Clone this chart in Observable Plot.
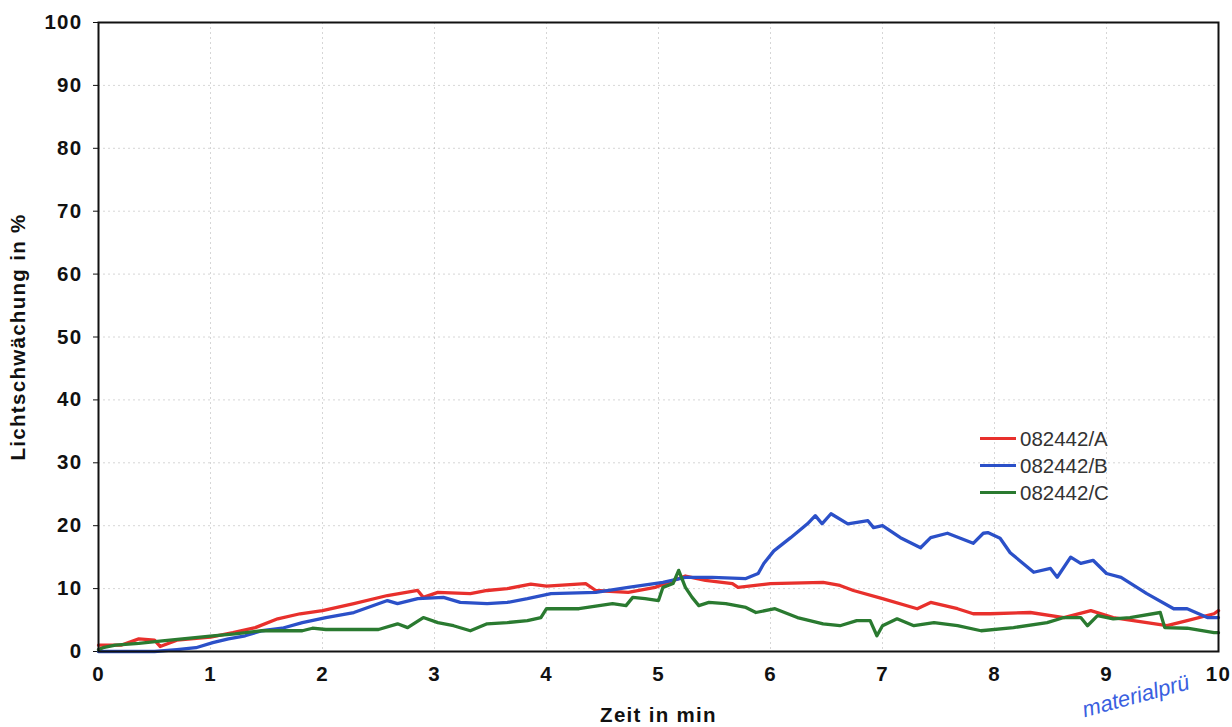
<!DOCTYPE html>
<html>
<head>
<meta charset="utf-8">
<script src="https://cdn.jsdelivr.net/npm/d3@7"></script>
<script src="https://cdn.jsdelivr.net/npm/@observablehq/plot@0.6"></script>
<style>
  html, body { margin: 0; padding: 0; background: #fff; overflow: hidden; }
  #wrap { position: relative; width: 1232px; height: 727px; overflow: hidden; }
  #legend { position: absolute; left: 980px; top: 425px; font-family: "Liberation Sans", Arial, sans-serif; font-size: 20.5px; color: #333; }
  .row { display: flex; align-items: center; height: 27px; }
  .sw { width: 36px; height: 3px; margin-right: 4px; }
  #wm { position: absolute; left: 1086px; top: 697px; font-family: "Liberation Sans", Arial, sans-serif; font-style: italic; font-size: 22px; color: #3a5fe0; transform: rotate(-15deg); transform-origin: left bottom; white-space: nowrap; }
</style>
</head>
<body>
<div id="wrap">
  <div id="chart"></div>
  <div id="legend"></div>
  <div id="wm">materialprü</div>
</div>
<script>
const seriesNames = ["082442/A", "082442/B", "082442/C"];
const seriesColors = ["#e8302c", "#2b50c8", "#2a7a30"];

const xA = [0,0.2,0.36,0.5,0.55,0.7,1.0,1.2,1.4,1.6,1.8,2.0,2.28,2.58,2.85,2.9,3.03,3.32,3.47,3.65,3.86,4.0,4.35,4.44,4.73,4.97,5.24,5.42,5.66,5.71,6.0,6.47,6.62,6.74,7.0,7.31,7.43,7.67,7.81,7.96,8.32,8.62,8.86,9.06,9.36,9.54,9.72,9.96,10];
const yA = [1,1,2,1.8,0.8,1.8,2.3,3,3.8,5.2,6,6.5,7.6,8.9,9.7,8.6,9.4,9.2,9.7,10,10.7,10.4,10.8,9.7,9.4,10.2,12,11.3,10.8,10.2,10.8,11,10.5,9.7,8.4,6.8,7.8,6.8,6,6,6.2,5.4,6.5,5.4,4.6,4.1,4.9,6,6.5];

const xB = [0,0.5,0.7,0.87,1.02,1.16,1.31,1.46,1.64,1.82,2.03,2.28,2.58,2.67,2.85,3.08,3.23,3.47,3.65,3.83,4.04,4.44,4.73,5.04,5.24,5.48,5.78,5.89,5.94,6.03,6.18,6.33,6.4,6.46,6.54,6.69,6.87,6.92,7.0,7.16,7.34,7.43,7.58,7.81,7.9,7.94,8.05,8.14,8.35,8.5,8.56,8.68,8.77,8.88,9.0,9.13,9.36,9.6,9.72,9.9,10];
const yB = [0,0,0.3,0.6,1.4,2,2.5,3.3,3.7,4.6,5.4,6.2,8.1,7.6,8.4,8.6,7.8,7.6,7.8,8.4,9.2,9.4,10.2,11,11.8,11.8,11.6,12.4,14,16,18.1,20.3,21.6,20.3,21.9,20.3,20.8,19.7,20,18.1,16.5,18.1,18.8,17.2,18.8,18.9,18,15.7,12.6,13.2,11.8,15,14,14.5,12.4,11.8,9.2,6.8,6.8,5.4,5.4];

const xC = [0,0.04,0.15,0.36,0.57,0.75,1.02,1.22,1.46,1.64,1.82,1.91,2.03,2.5,2.67,2.76,2.9,3.03,3.17,3.32,3.47,3.65,3.83,3.95,4.0,4.29,4.59,4.71,4.77,4.88,5.0,5.04,5.13,5.18,5.24,5.3,5.36,5.45,5.6,5.78,5.87,6.04,6.24,6.47,6.62,6.77,6.89,6.95,7.0,7.13,7.28,7.46,7.67,7.88,8.17,8.47,8.62,8.77,8.83,8.92,9.06,9.21,9.48,9.52,9.72,9.96,10];
const yC = [0.3,0.6,1.0,1.3,1.7,2,2.5,2.8,3.3,3.3,3.3,3.7,3.5,3.5,4.4,3.8,5.4,4.6,4.1,3.3,4.4,4.6,4.9,5.4,6.8,6.8,7.6,7.3,8.6,8.4,8.1,10.2,10.8,12.9,10.2,8.6,7.3,7.8,7.6,7.0,6.2,6.8,5.4,4.4,4.1,4.9,4.9,2.5,4.1,5.2,4.1,4.6,4.1,3.3,3.8,4.6,5.4,5.4,4.1,5.7,5.2,5.4,6.2,3.8,3.7,3.0,3.0];

const xTicks = [0,1,2,3,4,5,6,7,8,9,10];
const yTicks = [0,10,20,30,40,50,60,70,80,90,100];

const rows = [];
[[xA, yA], [xB, yB], [xC, yC]].forEach(([xs, ys], i) => {
  xs.forEach((x, j) => rows.push({series: seriesNames[i], x, y: ys[j]}));
});

const chart = Plot.plot({
  width: 1232,
  height: 727,
  marginLeft: 98,
  marginRight: 14,
  marginTop: 22,
  marginBottom: 76,
  style: {fontFamily: "'Liberation Sans', Arial, sans-serif", fontSize: "20.5px", fontWeight: "bold", letterSpacing: "1.3px", color: "#111", background: "#fff"},
  x: {domain: [0, 10], ticks: xTicks},
  y: {domain: [0, 100], ticks: yTicks},
  color: {domain: seriesNames, range: seriesColors},
  marks: [
    Plot.gridX(xTicks, {stroke: "#bbb", strokeOpacity: 0.6, strokeDasharray: "2,3"}),
    Plot.gridY(yTicks, {stroke: "#bbb", strokeOpacity: 0.6, strokeDasharray: "2,3"}),
    Plot.axisX(xTicks, {tickSize: 0, tickPadding: 15, label: "Zeit in min", labelAnchor: "center", labelArrow: "none", labelOffset: 70, fontWeight: "bold"}),
    Plot.axisY(yTicks, {tickSize: 5, tickPadding: 11, label: "Lichtschwächung in %", labelAnchor: "center", labelOffset: 88, labelArrow: "none", fontWeight: "bold"}),
    Plot.line(rows, {x: "x", y: "y", z: "series", stroke: "series", strokeWidth: 3.3, curve: "linear"}),
    Plot.frame({stroke: "#111", strokeWidth: 2})
  ]
});
document.getElementById("chart").appendChild(chart);

const legend = document.getElementById("legend");
seriesNames.forEach((n, i) => {
  const r = document.createElement("div");
  r.className = "row";
  r.innerHTML = `<div class="sw" style="background:${seriesColors[i]}"></div><span>${n}</span>`;
  legend.appendChild(r);
});
</script>
</body>
</html>
